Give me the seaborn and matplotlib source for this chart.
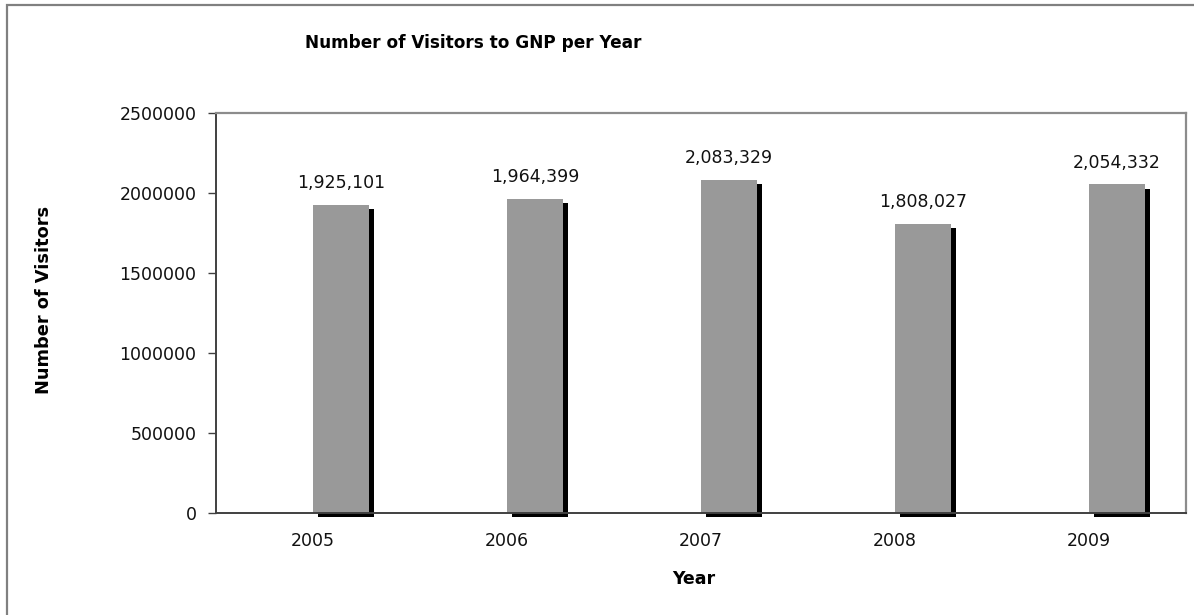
import matplotlib
matplotlib.use("Agg")
import matplotlib.pyplot as plt
import matplotlib.patheffects as pe
from matplotlib.patches import Rectangle
from matplotlib.ticker import FixedLocator
import seaborn as sns
import pandas as pd

years = ["2005", "2006", "2007", "2008", "2009"]
visitors = [1925101, 1964399, 2083329, 1808027, 2054332]
# hidden empty series (Excel layout keeps an empty slot left of each bar)
empty = [0, 0, 0, 0, 0]
yticks = [0, 500000, 1000000, 1500000, 2000000, 2500000]

sns.set_theme(style="white")
plt.rcParams["font.family"] = ["DejaVu Sans"]

df = pd.DataFrame({
    "Year": years * 2,
    "Visitors": empty + visitors,
    "Series": ["empty"] * len(years) + ["Visitors"] * len(years),
})

fig = plt.figure(figsize=(11.94, 6.15), dpi=100)
ax = fig.add_axes([216 / 1194, 102 / 615, 970 / 1194, 400 / 615])

sns.barplot(data=df, x="Year", y="Visitors", hue="Series",
            hue_order=["empty", "Visitors"],
            palette={"empty": "#999999", "Visitors": "#999999"},
            width=0.578, dodge=True, linewidth=0, legend=False, ax=ax)

cont = ax.containers[1]
for p in cont:
    p.set_clip_on(False)
    p.set_path_effects([
        pe.SimplePatchShadow(offset=(3.6, -3.2), shadow_rgbFace="black", alpha=1.0),
        pe.Normal(),
    ])
for p in ax.containers[0]:
    p.set_visible(False)

ax.bar_label(cont, labels=[f"{v:,}" for v in visitors], padding=9,
             fontsize=12.5, color="#111111")

ax.set_xlim(-0.5, 4.5)
ax.set_ylim(0, 2500000)
ax.set_yticks(yticks)
ax.set_yticklabels([str(t) for t in yticks])
ax.xaxis.set_minor_locator(FixedLocator([i - 0.5 for i in range(len(years) + 1)]))
ax.tick_params(axis="x", which="major", length=0, pad=14, labelsize=12.5, labelcolor="#111111")
ax.tick_params(axis="x", which="minor", length=6, width=1, color="#404040", direction="out")
ax.tick_params(axis="y", length=6, width=1, color="#404040", direction="out",
               pad=8, labelsize=12.5, labelcolor="#111111", left=True)
ax.set_xlabel("")
ax.set_ylabel("")

for s in ["left", "bottom"]:
    ax.spines[s].set_color("#404040")
    ax.spines[s].set_linewidth(1.4)
for s in ["top", "right"]:
    ax.spines[s].set_color("#8c8c8c")
    ax.spines[s].set_linewidth(1.6)

fig.text(305 / 1194, 1 - 43 / 615, "Number of Visitors to GNP per Year",
         ha="left", va="center", fontsize=12.2, fontweight="bold", color="#000000")
fig.text(44 / 1194, 1 - 300 / 615, "Number of Visitors", rotation=90,
         ha="center", va="center", fontsize=12.8, fontweight="bold", color="#000000")
fig.text(694 / 1194, 1 - 579 / 615, "Year",
         ha="center", va="center", fontsize=12.5, fontweight="bold", color="#000000")

fig.patches.append(Rectangle((7 / 1194, -0.1), 1.2, 1 - 5 / 615 + 0.1,
                             transform=fig.transFigure, fill=False,
                             edgecolor="#808080", linewidth=1.6))

fig.savefig("out.png", dpi=100)
